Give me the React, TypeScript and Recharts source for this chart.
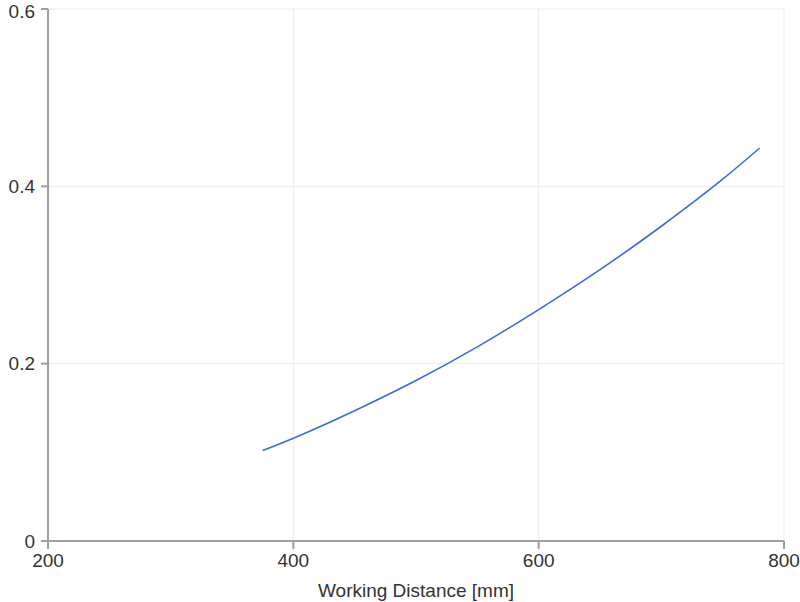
import { LineChart, Line, XAxis, YAxis, CartesianGrid, Label } from 'recharts'

// working distance [mm] and value
const distance = [375, 400, 450, 500, 550, 600, 650, 700, 750, 780]
const value = [0.102, 0.116, 0.147, 0.181, 0.219, 0.261, 0.306, 0.355, 0.408, 0.443]

const xTicks = [200, 400, 600, 800]
const yTicks = [0, 0.2, 0.4, 0.6]

const data = distance.map((d, i) => ({ d, v: value[i] }))

const font = '"Liberation Sans", Arial, sans-serif'
const tickStyle = { fontSize: 19, fill: '#333', fontFamily: font }

export default function App() {
  return (
    <div style={{ position: 'absolute', left: 0, top: 0, width: 800, height: 602, background: '#fff' }}>
      <LineChart width={800} height={602} data={data} margin={{ top: 9, right: 16, left: 0, bottom: 0 }}>
        <CartesianGrid stroke="#ebebeb" strokeWidth={1} />
        <XAxis
          dataKey="d"
          type="number"
          domain={[200, 800]}
          ticks={xTicks}
          height={61}
          tick={tickStyle}
          tickSize={8}
          tickMargin={5}
          stroke="#9e9e9e"
          strokeWidth={2}
        >
          <Label
            value="Working Distance [mm]"
            position="insideBottom"
            offset={5}
            style={{ fontSize: 19, fill: '#333', fontFamily: font }}
          />
        </XAxis>
        <YAxis
          type="number"
          domain={[0, 0.6]}
          ticks={yTicks}
          width={48}
          tick={tickStyle}
          tickSize={7}
          tickMargin={6}
          stroke="#9e9e9e"
          strokeWidth={2}
        />
        <Line
          type="monotone"
          dataKey="v"
          stroke="#3b6bd6"
          strokeWidth={1.6}
          dot={false}
          isAnimationActive={false}
        />
      </LineChart>
    </div>
  )
}
